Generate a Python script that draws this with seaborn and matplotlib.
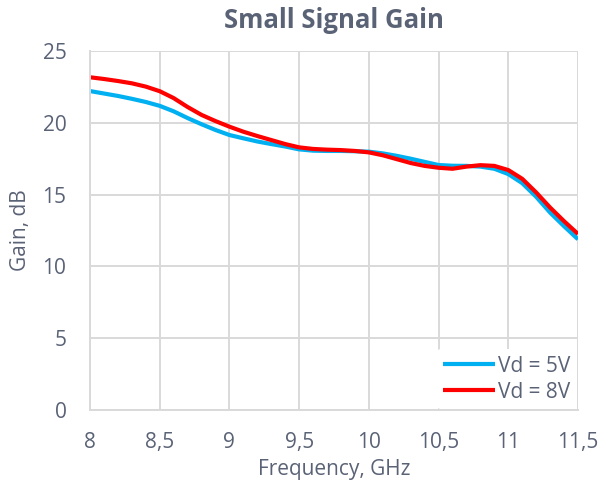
import numpy as np
import pandas as pd
import seaborn as sns
import matplotlib.pyplot as plt

# Measured small-signal gain vs frequency at two drain voltages
freq_ghz = [8.0, 8.1, 8.2, 8.3, 8.4, 8.5, 8.6, 8.7, 8.8, 8.9,
            9.0, 9.1, 9.2, 9.3, 9.4, 9.5, 9.6, 9.7, 9.8, 9.9,
            10.0, 10.1, 10.2, 10.3, 10.4, 10.5, 10.6, 10.7, 10.8, 10.9,
            11.0, 11.1, 11.2, 11.3, 11.4, 11.5]
gain_5v = [22.21, 22.04, 21.87, 21.67, 21.45, 21.18, 20.8, 20.33, 19.9, 19.5,
           19.15, 18.92, 18.7, 18.52, 18.35, 18.15, 18.06, 18.04, 18.04, 18.02,
           17.99, 17.87, 17.7, 17.5, 17.28, 17.06, 17.01, 17.0, 16.95, 16.8,
           16.43, 15.8, 14.85, 13.75, 12.8, 11.89]
gain_8v = [23.17, 23.05, 22.91, 22.75, 22.52, 22.2, 21.72, 21.1, 20.55, 20.12,
           19.73, 19.38, 19.08, 18.8, 18.52, 18.29, 18.18, 18.13, 18.1, 18.04,
           17.94, 17.74, 17.47, 17.2, 17.0, 16.87, 16.8, 16.95, 17.05, 17.0,
           16.71, 16.1, 15.15, 14.1, 13.15, 12.26]
series_names = ["Vd = 5V", "Vd = 8V"]
x_ticks = [8, 8.5, 9, 9.5, 10, 10.5, 11, 11.5]
x_tick_labels = ["8", "8,5", "9", "9,5", "10", "10,5", "11", "11,5"]
y_ticks = [0, 5, 10, 15, 20, 25]

df = pd.DataFrame({
    "Frequency": freq_ghz * 2,
    "Gain": gain_5v + gain_8v,
    "Series": [series_names[0]] * len(freq_ghz) + [series_names[1]] * len(freq_ghz),
})

sns.set_theme(style="whitegrid")
plt.rcParams["font.family"] = ["Open Sans", "DejaVu Sans"]
text_color = "#5a6276"
grid_color = "#d9d9d9"

fig = plt.figure(figsize=(6.0, 4.87), dpi=100)
ax = fig.add_axes([0.15, 0.158, 0.8133, 0.7373])

sns.lineplot(data=df, x="Frequency", y="Gain", hue="Series",
             palette={series_names[0]: "#00b0f0", series_names[1]: "#ff0000"},
             linewidth=3.0, ax=ax, legend=True)
for ln in ax.get_lines():
    ln.set_solid_joinstyle("round")
    ln.set_solid_capstyle("butt")

ax.set_xlim(8, 11.5)
ax.set_ylim(0, 25)
ax.set_xticks(x_ticks)
ax.set_xticklabels(x_tick_labels)
ax.set_yticks(y_ticks)
ax.tick_params(axis="both", length=0, labelsize=15, colors=text_color)
ax.tick_params(axis="x", pad=16)
ax.tick_params(axis="y", pad=17)
ax.grid(True, color=grid_color, linewidth=1.4)
for side, sp in ax.spines.items():
    sp.set_visible(side in ("left", "bottom"))
    sp.set_color(grid_color)
    sp.set_linewidth(1.4)

ax.set_xlabel("Frequency, GHz", fontsize=15, color=text_color, labelpad=4)
ax.set_ylabel("Gain, dB", fontsize=15, color=text_color, labelpad=8)
ax.set_title("Small Signal Gain", fontsize=18.5, fontweight="bold",
             color=text_color, pad=16.5)

leg = ax.legend(loc="lower right", fontsize=15, frameon=True,
                facecolor="white", edgecolor="none", framealpha=1.0,
                handlelength=2.5, handletextpad=0.15, borderaxespad=0.05,
                borderpad=0.3, labelspacing=0.25)
for t in leg.get_texts():
    t.set_color(text_color)
for h in leg.get_lines():
    h.set_linewidth(3.0)

fig.savefig("out.png", dpi=100)
